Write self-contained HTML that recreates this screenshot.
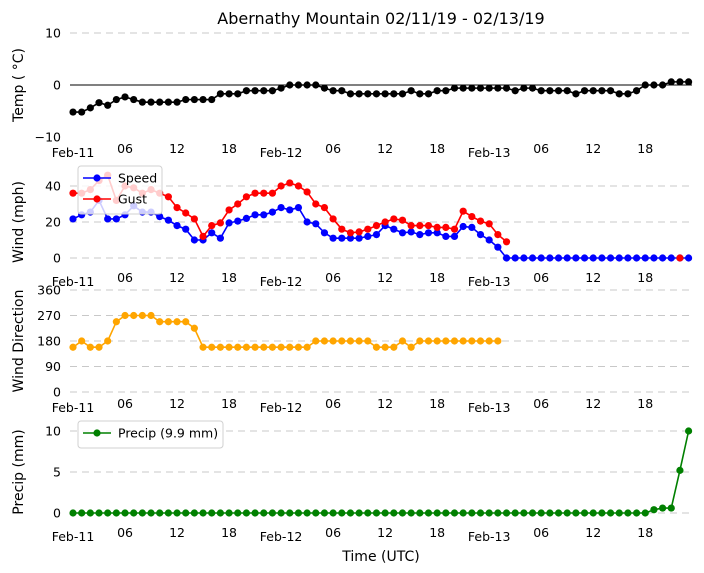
<!DOCTYPE html>
<html><head><meta charset="utf-8">
<style>
body{margin:0;background:#fff;}
svg{display:block;font-family:"DejaVu Sans","Liberation Sans",sans-serif;}
</style></head>
<body>
<svg id="chart" width="704" height="573" viewBox="0 0 704 573"></svg>
<script>
const hours = Array.from({length:72},(_,i)=>i);
const temp = [-5.2,-5.2,-4.4,-3.4,-3.9,-2.8,-2.3,-2.8,-3.3,-3.3,-3.3,-3.3,
-3.3,-2.8,-2.8,-2.8,-2.8,-1.7,-1.7,-1.7,-1.1,-1.1,-1.1,-1.1,
-0.6,0,0,0,0,-0.6,-1.1,-1.1,-1.7,-1.7,-1.7,-1.7,
-1.7,-1.7,-1.7,-1.1,-1.7,-1.7,-1.1,-1.1,-0.6,-0.6,-0.6,-0.6,
-0.6,-0.6,-0.6,-1.1,-0.6,-0.6,-1.1,-1.1,-1.1,-1.1,-1.7,-1.1,
-1.1,-1.1,-1.1,-1.7,-1.7,-1.1,0,0,0,0.6,0.6,0.6];
const speed = [21.7,24,25.5,32,21.7,21.7,24,29,25.5,25.5,23,21,
18,16,10,10,14,11,19.5,20.5,22,24,24,25.5,
28,26.7,28,20,19,14,11,11,11,11,12,13,
18,16,14,14.5,13,14,14,12,12,17.5,17,13,
10,6,0,0,0,0,0,0,0,0,0,0,0,0,0,0,0,0,0,0,0,0,0,0];
const gust = [36,36,38,43,46,32,40,39,36,38,36,34,
28,25,21.7,12,18,19.5,26.7,30,34,36,36,36,
40,41.7,40,36.7,30,28,21.7,16,14,14.5,16,18,
20,21.7,21,18,18,18,17,17,16,26,23,20.5,
19,13,9,null,null,null,null,null,null,null,null,null,
null,null,null,null,null,null,null,null,null,null,0,null];
const dir = [158,180,158,158,180,248,270,270,270,270,248,248,
248,248,225,158,158,158,158,158,158,158,158,158,
158,158,158,158,180,180,180,180,180,180,180,158,
158,158,180,158,180,180,180,180,180,180,180,180,
180,180];
const precip = [0,0,0,0,0,0,0,0,0,0,0,0,0,0,0,0,0,0,0,0,0,0,0,0,
0,0,0,0,0,0,0,0,0,0,0,0,0,0,0,0,0,0,0,0,0,0,0,0,
0,0,0,0,0,0,0,0,0,0,0,0,0,0,0,0,0,0,0,0.4,0.6,0.6,5.2,10];
const xTickHours = [0,6,12,18,24,30,36,42,48,54,60,66];
const xTickLabels = ["Feb-11","06","12","18","Feb-12","06","12","18","Feb-13","06","12","18"];

const svg = document.getElementById('chart');
const NS = 'http://www.w3.org/2000/svg';
function mk(tag, attrs, parent){const e=document.createElementNS(NS,tag);for(const k in attrs)e.setAttribute(k,attrs[k]);(parent||svg).appendChild(e);return e;}
const xS = h => 73 + h*(688.6-73)/71;

const panels = [
 {name:'temp', top:33, bot:137, min:-10, max:10, ticks:[10,0,-10], tickLabels:['10','0','\u221210'], title:'Temp ( \u00B0C)', labY:153},
 {name:'wind', top:186, bot:258, min:0, max:40, ticks:[40,20,0], tickLabels:['40','20','0'], title:'Wind (mph)', labY:282},
 {name:'direction', top:290, bot:392, min:0, max:360, ticks:[360,270,180,90,0], tickLabels:['360','270','180','90','0'], title:'Wind Direction', labY:408},
 {name:'precip', top:431, bot:513, min:0, max:10, ticks:[10,5,0], tickLabels:['10','5','0'], title:'Precip (mm)', labY:537}
];
panels.forEach(p=>{p.y=v=>p.bot-(v-p.min)/(p.max-p.min)*(p.bot-p.top);});

const t = mk('text',{x:381,y:24,'text-anchor':'middle','font-size':16,fill:'#000'});
t.textContent='Abernathy Mountain 02/11/19 - 02/13/19';



panels.forEach(p=>{
  const g = mk('g',{});
  
  
  p.ticks.forEach((v,i)=>{
    const y=p.y(v);
    const isZeroTemp = p.name==='temp' && v===0;
    const skip = p.name==='temp' && v===-10;
    if(!skip){
      const ln = mk('line',{x1:70,x2:692,y1:y,y2:y,stroke:isZeroTemp?'#000':'#c8c8c8','stroke-width':1,'stroke-dasharray':isZeroTemp?'none':'7,5'},g);
      
      
    }
    const tl = mk('text',{x:61,y:y+4.5,'text-anchor':'end','font-size':12.5,fill:'#000'},g);
    tl.textContent=p.tickLabels[i];
    
    
  });
  xTickHours.forEach((h,i)=>{
    const isDate = xTickLabels[i].startsWith('Feb');
    const xl = mk('text',{x:xS(h),y:p.labY+(isDate?4:0),'text-anchor':'middle','font-size':12.5,fill:'#000'},g);
    xl.textContent=xTickLabels[i];
    
    
  });
  const yt = mk('text',{x:0,y:0,'text-anchor':'middle','font-size':14,fill:'#000',transform:`translate(23,${(p.top+p.bot)/2}) rotate(-90)`},g);
  yt.textContent=p.title;
  
  
});

function series(p, vals, color, name){
  const g = mk('g',{});
  
  
  let d='', pen=false;
  vals.forEach((v,i)=>{
    if(v===null||v===undefined){pen=false;return;}
    d += (pen?'L':'M')+xS(hours[i])+','+p.y(v)+' '; pen=true;
  });
  mk('path',{d:d,fill:'none',stroke:color,'stroke-width':1.6},g);
  vals.forEach((v,i)=>{
    if(v===null||v===undefined)return;
    const c = mk('circle',{cx:xS(hours[i]),cy:p.y(v),r:3.6,fill:color},g);
    
    
  });
}
series(panels[0], temp, '#000', 'temperature');
series(panels[1], speed, '#0000ff', 'speed');
series(panels[1], gust, '#ff0000', 'gust');
series(panels[2], dir, '#ffa500', 'wind-direction');
series(panels[3], precip, '#008000', 'precip');

function legend(x,y,w,entries,name){
  const g = mk('g',{});
  
  
  mk('rect',{x:x,y:y,width:w,height:entries.length*21+6,rx:3,fill:'rgba(255,255,255,0.8)',stroke:'#d0d0d0'},g);
  entries.forEach((e,i)=>{
    const cy=y+12+i*21;
    const it = mk('g',{},g);
    
    
    mk('line',{x1:x+5,x2:x+33,y1:cy,y2:cy,stroke:e[0],'stroke-width':1.6},it);
    mk('circle',{cx:x+19,cy:cy,r:3.6,fill:e[0]},it);
    const tx = mk('text',{x:x+40,y:cy+4.5,'font-size':12.5,fill:'#000'},it);
    tx.textContent=e[1];
  });
}
legend(78,166,84,[['#0000ff','Speed'],['#ff0000','Gust']],'wind-legend');
legend(78,421,145,[['#008000','Precip (9.9 mm)']],'precip-legend');

const xt = mk('text',{x:381,y:561,'text-anchor':'middle','font-size':14,fill:'#000'});
xt.textContent='Time (UTC)';


</script>
</body></html>
